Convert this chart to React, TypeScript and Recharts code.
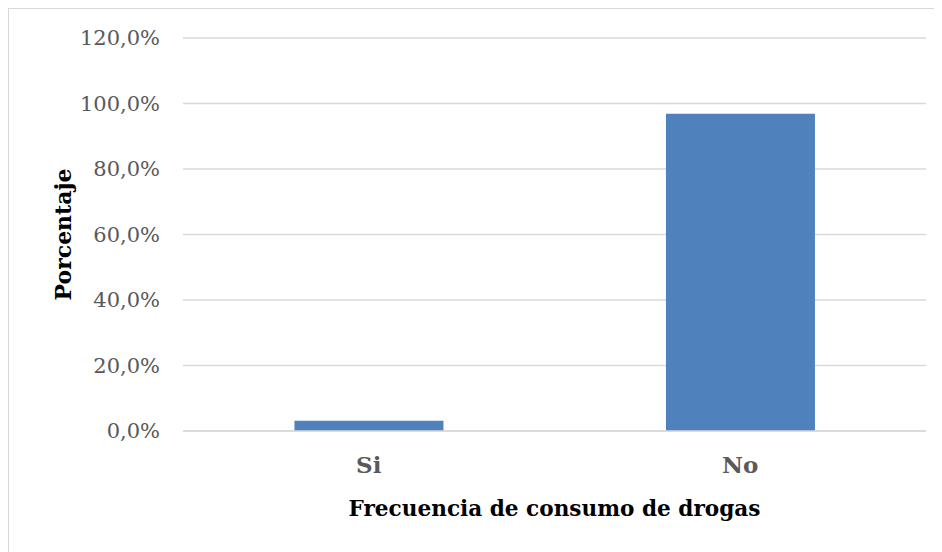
import { BarChart, Bar, XAxis, YAxis, CartesianGrid } from "recharts";

const categories = ["Si", "No"];
const percentages = [0.031, 0.969];
const yTicks = [0, 0.2, 0.4, 0.6, 0.8, 1.0, 1.2];

const data = categories.map((name, i) => ({ name, value: percentages[i] }));

const FONT = "'DejaVu Serif', 'Liberation Serif', serif";
const gridColor = "#d9d9d9";
const tickColor = "#595959";
const barColor = "#4f81bd";

const fmtPct = (v: number) => (v * 100).toFixed(1).replace(".", ",") + "%";

const YTitle = (props: any) => {
  const vb = props.viewBox || {};
  const x = (vb.x ?? 0) + 54;
  const y = (vb.y ?? 0) + (vb.height ?? 0) / 2;
  return (
    <text
      x={x}
      y={y}
      transform={`rotate(-90 ${x} ${y})`}
      textAnchor="middle"
      dominantBaseline="central"
      fontFamily={FONT}
      fontWeight="bold"
      fontSize={22}
      fill="#000"
    >
      Porcentaje
    </text>
  );
};

export default function App() {
  return (
    <div
      style={{
        width: 933,
        height: 543,
        borderTop: `1px solid ${gridColor}`,
        borderLeft: `1px solid ${gridColor}`,
        background: "#fff",
      }}
    >
      <BarChart
        width={933}
        height={543}
        data={data}
        margin={{ top: 29, right: 16, left: 0, bottom: 0 }}
        barCategoryGap="30%"
      >
        <CartesianGrid vertical={false} stroke={gridColor} strokeWidth={1.3} />
        <XAxis
          dataKey="name"
          height={121}
          axisLine={{ stroke: gridColor, strokeWidth: 1.3 }}
          tickLine={false}
          tickSize={0}
          tickMargin={26}
          tick={{ fontFamily: FONT, fontSize: 23, fontWeight: "bold", fill: tickColor }}
          label={{
            value: "Frecuencia de consumo de drogas",
            position: "insideBottom",
            offset: 36,
            fontFamily: FONT,
            fontSize: 21.6,
            fontWeight: "bold",
            fill: "#000",
          }}
        />
        <YAxis
          width={174}
          domain={[0, 1.2]}
          ticks={yTicks}
          interval={0}
          axisLine={false}
          tickLine={false}
          tickSize={0}
          tickMargin={23}
          tickFormatter={fmtPct}
          tick={{ fontFamily: FONT, fontSize: 21, fill: tickColor }}
          label={<YTitle />}
        />
        <Bar dataKey="value" fill={barColor} isAnimationActive={false} />
      </BarChart>
    </div>
  );
}
